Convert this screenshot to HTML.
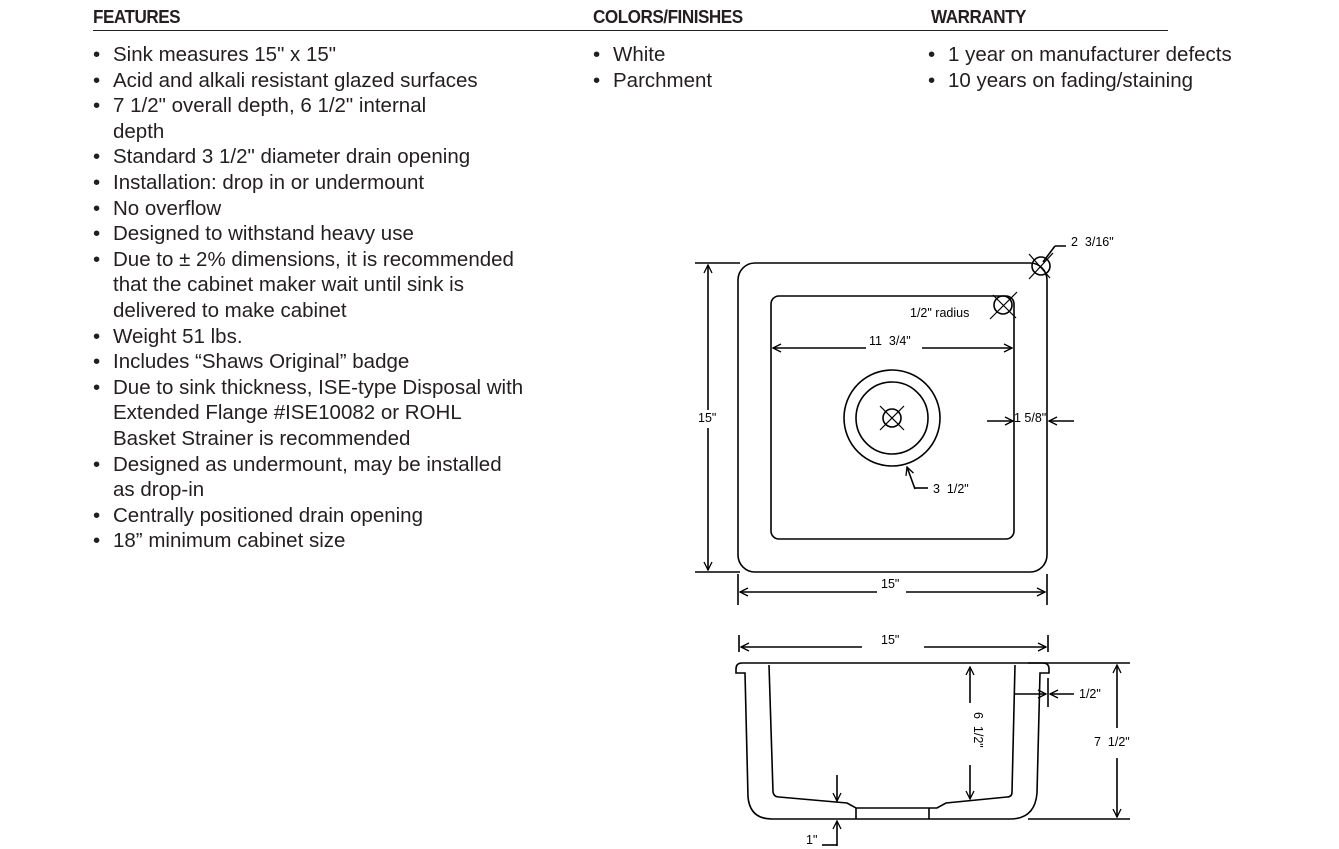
<!DOCTYPE html>
<html><head><meta charset="utf-8"><style>
body{margin:0;background:#fff;width:1339px;height:849px;overflow:hidden;position:relative;font-family:"Liberation Sans",sans-serif;color:#231f20}
.h{position:absolute;top:7px;font-weight:bold;font-size:18px;letter-spacing:-0.5px;transform:scaleX(0.95);transform-origin:left}
.rule{position:absolute;top:30px;left:93px;width:1075px;height:1px;background:#231f20}
.list{position:absolute;font-size:20.5px;line-height:25.6px;margin:0;padding:0;list-style:none;white-space:nowrap}
.list li{padding-left:20px;text-indent:-20px}
.list li:before{content:"• ";display:inline-block;width:20px;text-indent:0}
svg{position:absolute;left:0;top:0}
svg text{font-family:"Liberation Sans",sans-serif;font-size:12.5px;fill:#000;white-space:pre}
</style></head><body>
<div class="h" style="left:93px">FEATURES</div>
<div class="h" style="left:593px">COLORS/FINISHES</div>
<div class="h" style="left:931px">WARRANTY</div>
<div class="rule"></div>
<ul class="list" style="left:93px;top:42px">
<li>Sink measures 15" x 15"</li>
<li>Acid and alkali resistant glazed surfaces</li>
<li>7 1/2" overall depth, 6 1/2" internal<br>depth</li>
<li>Standard 3 1/2" diameter drain opening</li>
<li>Installation: drop in or undermount</li>
<li>No overflow</li>
<li>Designed to withstand heavy use</li>
<li>Due to ± 2% dimensions, it is recommended<br>that the cabinet maker wait until sink is<br>delivered to make cabinet</li>
<li>Weight 51 lbs.</li>
<li>Includes “Shaws Original” badge</li>
<li>Due to sink thickness, ISE-type Disposal with<br>Extended Flange #ISE10082 or ROHL<br>Basket Strainer is recommended</li>
<li>Designed as undermount, may be installed<br>as drop-in</li>
<li>Centrally positioned drain opening</li>
<li>18” minimum cabinet size</li>
</ul>
<ul class="list" style="left:593px;top:42px">
<li>White</li><li>Parchment</li></ul>
<ul class="list" style="left:928px;top:42px">
<li>1 year on manufacturer defects</li><li>10 years on fading/staining</li></ul>
<svg width="1339" height="849" fill="none" stroke="#000" stroke-width="1.6">
<defs><marker id="a" markerWidth="10" markerHeight="10" refX="9" refY="5" orient="auto" markerUnits="userSpaceOnUse"><path d="M1,1 L9,5 L1,9" stroke="#000" stroke-width="1.3" fill="none"/></marker></defs>
<rect x="738" y="263" width="309" height="309" rx="17"/>
<rect x="771" y="296" width="243" height="243" rx="8"/>
<circle cx="892" cy="418" r="48"/><circle cx="892" cy="418" r="36"/>
<circle cx="892" cy="418" r="9"/>
<path d="M880,430 L904,406 M880,406 L904,430" stroke-width="1.2"/>
<path d="M695,263 H740 M695,572 H740"/>
<path d="M708,410 V265" marker-end="url(#a)"/><path d="M708,428 V570" marker-end="url(#a)"/>
<text x="698" y="422" stroke="none">15"</text>
<path d="M738,574 V605 M1047,574 V605"/>
<path d="M877,592 H740" marker-end="url(#a)"/><path d="M906,592 H1045" marker-end="url(#a)"/>
<text x="881" y="588" stroke="none">15"</text>
<path d="M866,348 H773" marker-end="url(#a)"/><path d="M922,348 H1012" marker-end="url(#a)"/>
<text x="869" y="345" stroke="none">11  3/4"</text>
<path d="M987,421 H1013" marker-end="url(#a)"/><path d="M1074,421 H1049" marker-end="url(#a)"/>
<text x="1014" y="422" stroke="none">1 5/8"</text>
<path d="M915,489 L907,467" marker-end="url(#a)"/><path d="M915,488 H928"/>
<text x="933" y="493" stroke="none">3  1/2"</text>
<text x="910" y="317" stroke="none">1/2" radius</text>
<circle cx="1003" cy="305" r="9"/><path d="M990,319 L1017,292 M993,295 L1016,318" stroke-width="1.2"/>
<circle cx="1041" cy="266" r="9"/><path d="M1029,254 L1050,278 M1029,279 L1053,253" stroke-width="1.2"/>
<path d="M1055,246 H1066 M1055,246 L1043,262"/>
<text x="1071" y="246" stroke="none">2  3/16"</text>
<path d="M739,635 V652 M1048,635 V652"/>
<path d="M862,647 H741" marker-end="url(#a)"/><path d="M924,647 H1046" marker-end="url(#a)"/>
<text x="881" y="644" stroke="none">15"</text>
<path d="M742,663 H1043 Q1049,663 1049,669 V673 H1040 L1037,793 Q1035,819 1010,819 H772 Q750,819 748,797 L745,673 H736 V669 Q736,663 742,663 Z"/>
<path d="M769,665 L773,792 Q774,797 779,797 L847,803 L856,808 H937 L946,803 L1007,797 Q1012,797 1012,792 L1015,665"/>
<path d="M856,808 V819 M929,808 V819"/>
<path d="M970,703 V667" marker-end="url(#a)"/><path d="M970,765 V799" marker-end="url(#a)"/>
<text transform="translate(974,712) rotate(90)" stroke="none">6  1/2"</text>
<path d="M1015,694 H1046" marker-end="url(#a)"/><path d="M1074,694 H1050" marker-end="url(#a)"/>
<path d="M1048,678 V707"/>
<text x="1079" y="698" stroke="none">1/2"</text>
<path d="M1028,663 H1130 M1028,819 H1130"/>
<path d="M1117,728 V665" marker-end="url(#a)"/><path d="M1117,758 V817" marker-end="url(#a)"/>
<text x="1094" y="746" stroke="none">7  1/2"</text>
<path d="M837,775 V801" marker-end="url(#a)"/>
<path d="M837,846 V821" marker-end="url(#a)"/><path d="M837,845 H822"/>
<text x="806" y="844" stroke="none">1"</text>
</svg>
</body></html>
